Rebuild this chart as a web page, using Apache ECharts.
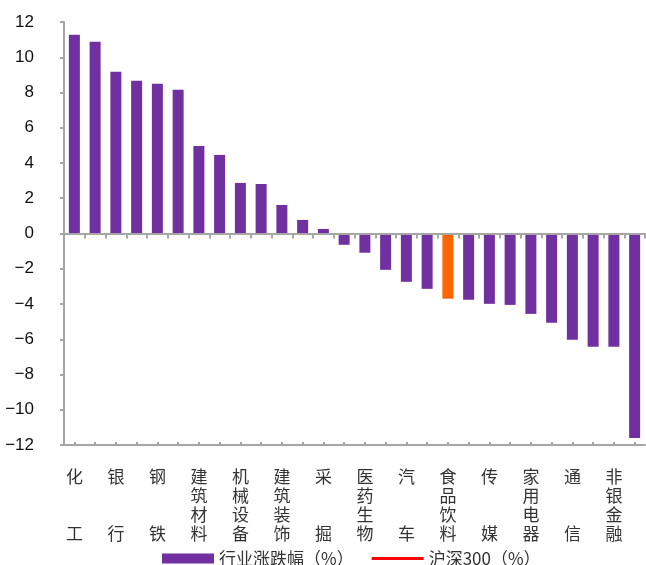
<!DOCTYPE html>
<html>
<head>
<meta charset="utf-8">
<script src="https://cdn.jsdelivr.net/npm/echarts@6/dist/echarts.min.js"></script>
<style>
  html, body { margin: 0; padding: 0; background: #fff; }
  #chart { width: 646px; height: 565px; }
</style>
</head>
<body>
<div id="chart"></div>
<script>
// 申万一级行业周涨跌幅（%），按涨跌幅降序
const industries = [
  '化工', '有色金属', '银行', '电子', '钢铁', '国防军工', '建筑材料', '房地产',
  '机械设备', '电气设备', '建筑装饰', '交通运输', '采掘', '公用事业', '医药生物', '轻工制造',
  '汽车', '农林牧渔', '食品饮料', '纺织服装', '传媒', '商业贸易', '家用电器', '计算机',
  '通信', '休闲服务', '非银金融', '综合'
];
const changePct = [
  11.28, 10.88, 9.18, 8.66, 8.49, 8.15, 4.97, 4.46,
  2.87, 2.81, 1.62, 0.77, 0.26, -0.64, -1.09, -2.06,
  -2.74, -3.14, -3.70, -3.76, -3.99, -4.05, -4.56, -5.07,
  -6.03, -6.43, -6.43, -11.60
];
const highlighted = '食品饮料';
const hs300Pct = [];
const yTicks = { min: -12, max: 12, step: 2 };

const purple = '#7030A0';
const orange = '#FF6600';
const red = '#FF0000';
const axisGray = '#A6A6A6';

const barData = changePct.map((v, i) => ({
  value: v,
  itemStyle: { color: industries[i] === highlighted ? orange : purple }
}));

// 竖排标签：两字名称首尾分开，四字名称逐字换行
function verticalLabel(name) {
  const chars = Array.from(name);
  if (chars.length === 2) return chars[0] + '\n\n\n' + chars[1];
  return chars.join('\n');
}

// 图例中的细线图标（角点极小，使图标按 52×10 的框定位）
const thinLineIcon = 'path://M0,0L0.01,0L0,0.01Z M0,3.6L52,3.6L52,6.4L0,6.4Z M52,10L51.99,10L52,9.99Z';

const chart = echarts.init(document.getElementById('chart'), null, { renderer: 'canvas' });
chart.setOption({
  animation: false,
  backgroundColor: '#fff',
  grid: { left: 64, right: 1, top: 22, bottom: 120, containLabel: false },
  legend: {
    left: 157,
    top: 545,
    itemWidth: 52,
    itemHeight: 10,
    itemGap: 18,
    textStyle: { fontSize: 17, color: '#333', fontFamily: 'Noto Sans CJK SC' },
    data: [
      { name: '行业涨跌幅（%）', icon: 'rect' },
      { name: '沪深300（%）', icon: thinLineIcon, itemStyle: { color: red } }
    ]
  },
  xAxis: [
    {
      // 零轴：主轴线与分隔刻度
      type: 'category',
      data: industries,
      position: 'bottom',
      z: 5,
      axisLine: { onZero: true, lineStyle: { color: axisGray, width: 2 } },
      axisTick: { show: true, interval: 0, length: 5, lineStyle: { color: axisGray, width: 2 } },
      axisLabel: { show: false }
    },
    {
      // 零轴上方的类目中心刻度
      type: 'category',
      data: industries,
      position: 'bottom',
      z: 5,
      axisLine: { show: true, onZero: true, lineStyle: { color: axisGray, width: 2 } },
      axisTick: { show: true, interval: 0, inside: true, alignWithLabel: true, length: 3, lineStyle: { color: axisGray, width: 2 } },
      axisLabel: { show: false }
    },
    {
      // 底部行业名称
      type: 'category',
      data: industries,
      position: 'bottom',
      axisLine: { show: false, onZero: false },
      axisTick: { show: false },
      axisLabel: {
        interval: 1,
        margin: 22,
        fontSize: 17,
        lineHeight: 19,
        color: '#333',
        fontFamily: 'Noto Sans CJK SC',
        verticalAlign: 'top',
        formatter: verticalLabel
      }
    }
  ],
  yAxis: {
    type: 'value',
    min: yTicks.min,
    max: yTicks.max,
    interval: yTicks.step,
    axisLine: { show: true, lineStyle: { color: axisGray, width: 2 } },
    axisTick: { show: true, length: 4, lineStyle: { color: axisGray, width: 2 } },
    splitLine: { show: false },
    axisLabel: {
      margin: 30,
      fontSize: 17,
      color: '#111',
      fontFamily: 'Liberation Sans',
      formatter: v => String(v).replace('-', '\u2212')
    }
  },
  series: [
    {
      name: '行业涨跌幅（%）',
      type: 'bar',
      xAxisIndex: 0,
      barWidth: 11,
      itemStyle: { color: purple },
      data: barData
    },
    {
      name: '沪深300（%）',
      type: 'line',
      xAxisIndex: 0,
      symbol: 'none',
      itemStyle: { color: red },
      lineStyle: { color: red, width: 3 },
      data: hs300Pct
    }
  ]
});
</script>
</body>
</html>
